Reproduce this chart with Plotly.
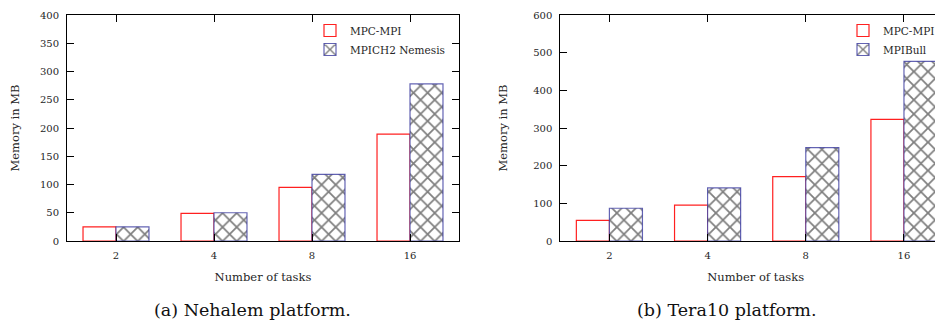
import plotly.graph_objects as go

tasks = ["2", "4", "8", "16"]
nehalem_mpc = [25, 49, 95, 189]
nehalem_mpich = [25, 50, 118, 278]
tera_mpc = [55, 95, 171, 323]
tera_bull = [87, 141, 248, 477]

W, H = 943, 320
OFF = 8  # page body margin: figure origin sits at (8, 8) on screen
FONT = "DejaVu Serif"
TXT = "#262626"

def px(xs):
    return (xs - OFF) / W

def py(ys):
    return 1 - (ys - OFF) / H

fig = go.Figure()

red = dict(color="rgba(255,255,255,0)", line=dict(color="#ff2020", width=1.2))
hatch = dict(color="white",
             line=dict(color="rgba(60,60,160,0.8)", width=1.2),
             pattern=dict(shape="x", fgcolor="black", bgcolor="white", size=10, solidity=0.32))

fig.add_trace(go.Bar(x=tasks, y=nehalem_mpc, name="MPC-MPI", marker=red,
                     xaxis="x", yaxis="y", legend="legend"))
fig.add_trace(go.Bar(x=tasks, y=nehalem_mpich, name="MPICH2 Nemesis", marker=hatch,
                     xaxis="x", yaxis="y", legend="legend"))
fig.add_trace(go.Bar(x=tasks, y=tera_mpc, name="MPC-MPI", marker=red,
                     xaxis="x2", yaxis="y2", legend="legend2"))
fig.add_trace(go.Bar(x=tasks, y=tera_bull, name="MPIBull", marker=hatch,
                     xaxis="x2", yaxis="y2", legend="legend2"))

ydom = [py(241), py(15)]
tickfont = dict(family=FONT, size=10, color=TXT)
titlefont = dict(family=FONT, size=11.5, color=TXT)
axis_common = dict(showgrid=False, zeroline=False, showline=True, linecolor="black",
                   linewidth=1, ticks="inside", ticklen=7, tickcolor="black",
                   tickfont=tickfont, automargin=False, ticklabeloverflow="allow")

# right panel: plot area extends past the window; 943 on screen corresponds to 3.479 categories
fig.update_layout(
    width=W, height=H,
    margin=dict(l=0, r=0, t=0, b=0),
    paper_bgcolor="white", plot_bgcolor="white",
    barmode="group", bargap=0.327, bargroupgap=0,
    font=dict(family=FONT, color=TXT),
    xaxis=dict(domain=[px(67), px(459)], range=[-0.5, 3.5], type="category",
               mirror="allticks", anchor="y",
               title=dict(text="Number of tasks", font=titlefont, standoff=12),
               ticklabelstandoff=5, **axis_common),
    yaxis=dict(domain=ydom, range=[0, 400], dtick=50, mirror="allticks", anchor="x",
               title=dict(text="Memory in MB", font=titlefont, standoff=23),
               ticklabelstandoff=5, **axis_common),
    xaxis2=dict(domain=[px(560.3), 1.0], range=[-0.5, 3.479], type="category",
                mirror="allticks", anchor="y2",
                title=dict(text="Number of tasks", font=titlefont, standoff=12),
                ticklabelstandoff=5, **axis_common),
    yaxis2=dict(domain=ydom, range=[0, 600], dtick=100, mirror=False, anchor="x2",
                title=dict(text="Memory in MB", font=titlefont, standoff=23),
                ticklabelstandoff=5, **axis_common),
    legend=dict(x=px(450), xanchor="right", y=py(16), yanchor="top",
                bgcolor="rgba(0,0,0,0)", font=dict(family=FONT, size=10.5, color=TXT),
                tracegroupgap=0, itemwidth=30),
    legend2=dict(x=px(940), xanchor="right", y=py(16), yanchor="top",
                 bgcolor="rgba(0,0,0,0)", font=dict(family=FONT, size=10.5, color=TXT),
                 tracegroupgap=0, itemwidth=30),
    annotations=[
        dict(text="(a) Nehalem platform.", x=px(252), y=py(310), xref="paper", yref="paper",
             xanchor="center", yanchor="middle",
             showarrow=False, font=dict(family=FONT, size=17.5, color="#111")),
        dict(text="(b) Tera10 platform.", x=px(727), y=py(310), xref="paper", yref="paper",
             xanchor="center", yanchor="middle",
             showarrow=False, font=dict(family=FONT, size=17.5, color="#111")),
    ],
)

fig.write_html("out.html")
